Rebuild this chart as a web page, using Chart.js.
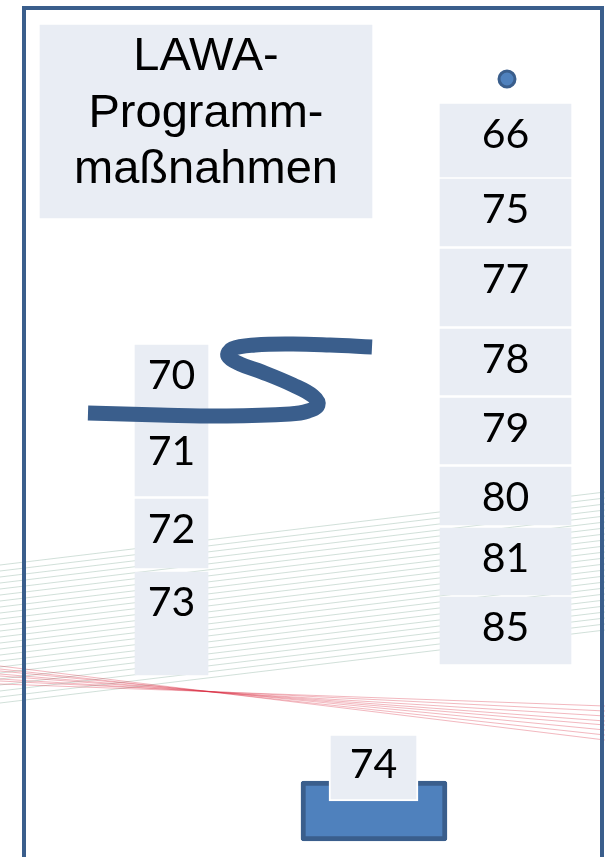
<!DOCTYPE html>
<html>
<head>
<meta charset="utf-8">
<script src="https://cdn.jsdelivr.net/npm/chart.js@4"></script>
<style>
  html, body { margin: 0; padding: 0; background: #ffffff; }
  canvas { display: block; }
</style>
</head>
<body>
<canvas id="myChart" width="605" height="857"></canvas>
<script>
// Zellen rechts (Programmnummern), Ober-/Unterkante in Bildzeilen
const rightLabels = ['66', '75', '77', '78', '79', '80', '81', '85'];
const rightTop = [104, 179, 249, 329, 398, 467, 528, 597];
const rightBottom = [177, 246, 326, 395, 464, 525, 595, 664];

// Zellen links
const leftLabels = ['70', '71', '72', '73'];
const leftTop = [345, 421, 499, 572];
const leftBottom = [419, 496, 568, 675];

// einzelne Zelle unten
const bottomLabels = ['74'];
const bottomTop = [734];
const bottomBottom = [801];

// Titel
const titleLines = ['LAWA-', 'Programm-', 'maßnahmen'];
const titleTop = [25];
const titleBottom = [218];

// S-Linie (Verbindung)
const curveX = [372, 330, 293, 255, 232, 228, 240, 262, 293, 313, 318, 308, 290, 227, 160, 88];
const curveY = [347, 345, 344, 345, 349, 356, 364, 372, 385, 396, 405, 411, 414, 416, 415, 413];

// Hintergrundlinien (Deko)
const greenLeftY = [565, 571, 577, 583, 589, 595, 601, 607, 613, 619, 625, 631, 637, 643, 649, 655, 661, 667, 673, 679, 685, 691, 697, 703];
const greenRightY = [492, 498, 504, 510, 516, 522, 528, 534, 540, 546, 552, 558, 564, 570, 576, 582, 588, 594, 600, 606, 612, 618, 624, 630];
const redLeftY = [666, 669, 671, 674, 676, 679, 681, 684];
const redRightY = [740, 735, 730, 725, 721, 716, 711, 706];

const blueDark = '#3a5e8c';
const blueFill = '#4f81bd';
const cellFill = '#e9edf4';

function cells(xPos, tops, bottoms) {
    return tops.map((t, i) => ({ x: xPos, y: [t, bottoms[i]] }));
}

const datasets = [];

// Kästen
datasets.push({
    type: 'bar', label: 'bottomCell', order: 1,
    data: cells(373.5, bottomTop, bottomBottom),
    backgroundColor: cellFill, borderColor: '#ffffff', borderWidth: 2, borderSkipped: false,
    barThickness: 89, grouped: false, labels: bottomLabels
});
datasets.push({
    type: 'bar', label: 'tray', order: 2,
    data: [{ x: 374, y: [781, 841] }],
    backgroundColor: blueFill, borderColor: blueDark, borderWidth: 5, borderSkipped: false,
    borderRadius: 3, barThickness: 146, grouped: false
});
datasets.push({
    type: 'line', label: 'dot', order: 3,
    data: [{ x: 507, y: 79 }],
    showLine: false, pointRadius: 8, pointBorderWidth: 3,
    pointBackgroundColor: blueFill, pointBorderColor: blueDark
});
datasets.push({
    type: 'line', label: 'curve', order: 4,
    data: curveX.map((x, i) => ({ x: x, y: curveY[i] })),
    borderColor: blueDark, borderWidth: 15, borderCapStyle: 'butt',
    tension: 0.4, pointRadius: 0, fill: false
});
datasets.push({
    type: 'bar', label: 'right', order: 5,
    data: cells(505.5, rightTop, rightBottom),
    backgroundColor: cellFill, borderWidth: 0, barThickness: 131, grouped: false,
    labels: rightLabels
});
datasets.push({
    type: 'bar', label: 'left', order: 5,
    data: cells(171.5, leftTop, leftBottom),
    backgroundColor: cellFill, borderWidth: 0, barThickness: 73, grouped: false,
    labels: leftLabels
});
datasets.push({
    type: 'bar', label: 'title', order: 5,
    data: cells(206, titleTop, titleBottom),
    backgroundColor: cellFill, borderWidth: 0, barThickness: 332, grouped: false
});
// Rahmen
datasets.push({
    type: 'line', label: 'frame', order: 6,
    data: [{ x: 24, y: 870 }, { x: 24, y: 8 }, { x: 602, y: 8 }, { x: 602, y: 870 }],
    borderColor: blueDark, borderWidth: 4, tension: 0, pointRadius: 0, fill: false
});
redLeftY.forEach((y, i) => {
    datasets.push({
        type: 'line', label: 'red' + i, order: 7,
        data: [{ x: 0, y: y }, { x: 605, y: redRightY[i] }],
        borderColor: 'rgba(215, 40, 60, 0.33)', borderWidth: 1.2, tension: 0, pointRadius: 0
    });
});
greenLeftY.forEach((y, i) => {
    datasets.push({
        type: 'line', label: 'green' + i, order: 8,
        data: [{ x: 0, y: y }, { x: 605, y: greenRightY[i] }],
        borderColor: 'rgba(140, 178, 160, 0.4)', borderWidth: 1, tension: 0, pointRadius: 0
    });
});

// Beschriftungen der Kästen
const cellText = {
    id: 'cellText',
    afterDatasetsDraw(chart) {
        const ctx = chart.ctx;
        ctx.save();
        ctx.fillStyle = '#000000';
        ctx.textAlign = 'center';
        chart.data.datasets.forEach((ds, di) => {
            const meta = chart.getDatasetMeta(di);
            if (ds.labels) {
                ctx.font = '41px Lato';
                ctx.textBaseline = 'middle';
                meta.data.forEach((el, i) => {
                    const top = Math.min(el.y, el.base);
                    ctx.fillText(ds.labels[i], el.x, top + 31);
                });
            }
            if (ds.label === 'title') {
                const el = meta.data[0];
                const top = Math.min(el.y, el.base);
                ctx.font = '47px "Liberation Sans", Arial, sans-serif';
                ctx.textBaseline = 'alphabetic';
                titleLines.forEach((t, i) => {
                    ctx.fillText(t, el.x, top + 45 + i * 56.5);
                });
            }
        });
        ctx.restore();
    }
};

const ctx = document.getElementById('myChart').getContext('2d');

const config = {
    type: 'bar',
    data: { datasets: datasets },
    options: {
        responsive: false,
        animation: false,
        devicePixelRatio: 1,
        layout: { padding: 0, autoPadding: false },
        scales: {
            x: { type: 'linear', min: 0, max: 605, offset: false, display: false },
            y: { type: 'linear', min: 0, max: 857, reverse: true, offset: false, display: false }
        },
        plugins: {
            legend: { display: false },
            tooltip: { enabled: false }
        }
    },
    plugins: [cellText]
};

const myChart = new Chart(ctx, config);
</script>
</body>
</html>
